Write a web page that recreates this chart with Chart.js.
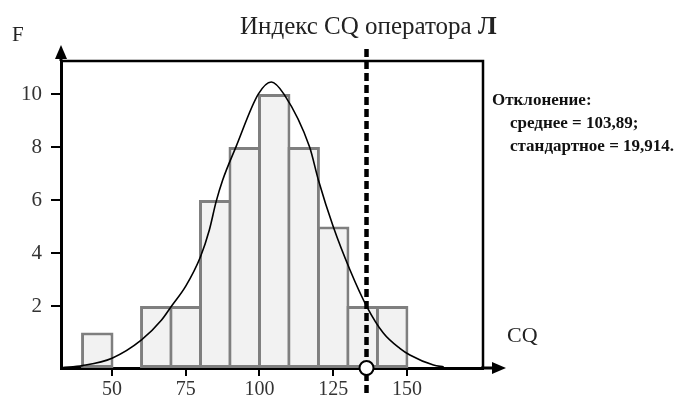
<!DOCTYPE html>
<html>
<head>
<meta charset="utf-8">
<script src="https://cdn.jsdelivr.net/npm/chart.js@4/dist/chart.umd.min.js"></script>
<style>
  html, body { margin: 0; padding: 0; background: #fff; }
  #wrap { position: relative; width: 677px; height: 397px; }
  .lbl { position: absolute; font-family: "Liberation Serif", "Times New Roman", serif; color: #222; white-space: nowrap; line-height: 1; }
  .note { font-size: 17px; font-weight: bold; color: #111; }
</style>
</head>
<body>
<div id="wrap">
  <canvas id="chart" width="677" height="397"></canvas>
  <div class="lbl" style="left:240px; top:13px; font-size:25px;">Индекс CQ оператора <b>Л</b></div>
  <div class="lbl" style="left:12px; top:24px; font-size:21px;">F</div>
  <div class="lbl" style="left:507px; top:324px; font-size:22px;">CQ</div>
  <div class="lbl note" style="left:492px; top:91px;">Отклонение:</div>
  <div class="lbl note" style="left:510px; top:114px;">среднее = 103,89;</div>
  <div class="lbl note" style="left:510px; top:137px;">стандартное = 19,914.</div>
</div>
<script>
// histogram bins (CQ midpoints) and frequencies
const binMids = [45, 55, 65, 75, 85, 95, 105, 115, 125, 135, 145];
const freqs = [1, null, 2, 2, 6, 8, 10, 8, 5, 2, 2];

// fitted curve
const curveX = [33, 40, 50, 60, 66.8, 70.2, 75, 80, 83, 85.3, 87.5, 92, 99.6, 104, 108.3, 117, 120, 125, 130.7, 136.3, 142, 147.6, 151, 159, 162.5];
const curveY = [-0.33, -0.25, 0.03, 0.72, 1.47, 2.0, 2.75, 3.86, 4.87, 5.94, 6.75, 8.0, 10.0, 10.46, 10.0, 8.0, 6.75, 5.0, 3.36, 2.0, 0.98, 0.4, 0.15, -0.23, -0.3];

// operator Л marker
const markX = 136.3;
const markSpan = [-1.28, 11.85];

const xTicks = [50, 75, 100, 125, 150];
const yTicks = [2, 4, 6, 8, 10];

const X_MIN = 32.7, X_MAX = 175.8;
const Y_MIN = -0.34, Y_MAX = 11.25;

const serif = "'Liberation Serif', 'Times New Roman', serif";

const framePlugin = {
  id: "frame",
  beforeDatasetsDraw(chart) {
    const { ctx, chartArea: a } = chart;
    ctx.save();
    ctx.strokeStyle = "#000";
    ctx.lineWidth = 2.5;
    ctx.beginPath();
    ctx.moveTo(a.left, a.top);
    ctx.lineTo(a.right, a.top);
    ctx.lineTo(a.right, a.bottom);
    ctx.stroke();
    ctx.restore();
  },
  afterDraw(chart) {
    const { ctx, chartArea: a } = chart;
    const xs = chart.scales.x;
    const x0 = xs.getPixelForValue(X_MIN);
    const y0 = chart.scales.y.getPixelForValue(Y_MIN);
    ctx.save();
    ctx.strokeStyle = "#000";
    ctx.fillStyle = "#000";
    // x tick marks
    ctx.lineWidth = 2;
    ctx.beginPath();
    xs.ticks.forEach(t => {
      const px = Math.round(xs.getPixelForValue(t.value));
      ctx.moveTo(px, y0);
      ctx.lineTo(px, y0 + 8);
    });
    ctx.stroke();
    ctx.lineWidth = 3;
    // axis extensions
    ctx.beginPath();
    ctx.moveTo(x0, a.top);
    ctx.lineTo(x0, 56);
    ctx.moveTo(a.right - 2, y0);
    ctx.lineTo(494, y0);
    ctx.stroke();
    // arrow heads
    ctx.beginPath();
    ctx.moveTo(x0, 45);
    ctx.lineTo(x0 - 6, 59);
    ctx.lineTo(x0 + 6, 59);
    ctx.closePath();
    ctx.fill();
    ctx.beginPath();
    ctx.moveTo(506, y0);
    ctx.lineTo(492, y0 - 6);
    ctx.lineTo(492, y0 + 6);
    ctx.closePath();
    ctx.fill();
    ctx.restore();
  }
};

new Chart(document.getElementById("chart"), {
  type: "bar",
  data: {
    datasets: [
      {
        type: "scatter",
        data: [{ x: markX, y: Y_MIN }],
        pointRadius: 7,
        pointBackgroundColor: "#fff",
        pointBorderColor: "#000",
        pointBorderWidth: 2,
        clip: false
      },
      {
        type: "line",
        data: markSpan.map(v => ({ x: markX, y: v })),
        borderColor: "#000",
        borderWidth: 4.5,
        borderDash: [8, 4],
        pointRadius: 0,
        clip: false
      },
      {
        type: "line",
        data: curveX.map((x, i) => ({ x: x, y: curveY[i] })),
        borderColor: "#000",
        borderWidth: 1.6,
        pointRadius: 0,
        cubicInterpolationMode: "monotone"
      },
      {
        type: "bar",
        data: binMids.map((x, i) => ({ x: x, y: freqs[i] })),
        backgroundColor: "#f2f2f2",
        borderColor: "#7f7f7f",
        borderWidth: 3,
        borderSkipped: false,
        barPercentage: 1.1,
        categoryPercentage: 1,
        inflateAmount: 0,
        base: Y_MIN
      }
    ]
  },
  options: {
    responsive: false,
    animation: false,
    layout: { padding: { top: 61, right: 194, left: 0, bottom: 0 } },
    plugins: { legend: { display: false }, tooltip: { enabled: false } },
    scales: {
      x: {
        type: "linear",
        min: X_MIN,
        max: X_MAX,
        offset: false,
        afterBuildTicks: s => { s.ticks = xTicks.map(v => ({ value: v })); },
        afterFit: s => { s.height = 29; },
        ticks: { color: "#333", font: { family: serif, size: 20 }, padding: 4, maxRotation: 0 },
        grid: { offset: false, drawOnChartArea: false, color: "#000", lineWidth: 2, tickLength: 6 },
        border: { color: "#000", width: 3 }
      },
      y: {
        type: "linear",
        min: Y_MIN,
        max: Y_MAX,
        afterBuildTicks: s => { s.ticks = yTicks.map(v => ({ value: v })); },
        afterFit: s => { s.width = 61; },
        ticks: { color: "#333", font: { family: serif, size: 21 }, padding: 9 },
        grid: { drawOnChartArea: false, color: "#000", lineWidth: 2, tickLength: 10 },
        border: { color: "#000", width: 3 }
      }
    }
  },
  plugins: [framePlugin]
});
</script>
</body>
</html>
